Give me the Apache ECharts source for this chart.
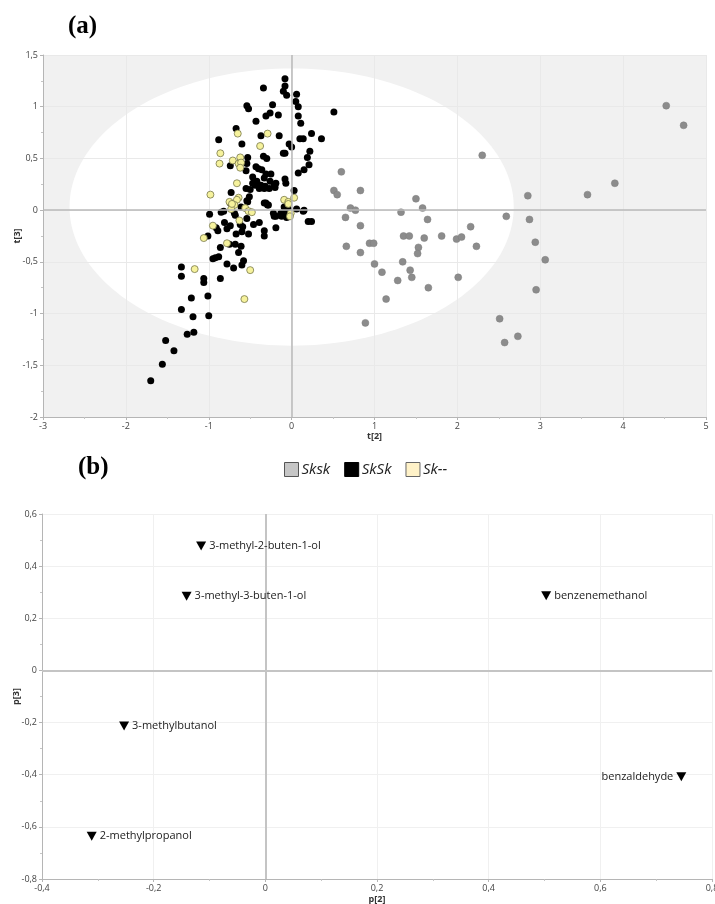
<!DOCTYPE html>
<html><head><meta charset="utf-8">
<script src="https://cdn.jsdelivr.net/npm/echarts@6/dist/echarts.min.js"></script>
<style>html,body{margin:0;padding:0;background:#fff}#c{width:715px;height:904px}</style>
</head><body><div id="c"></div>
<script>
// ---------- Panel (a): score plot t[2] vs t[3] ----------
const groupNames = ['Sksk', 'SkSk', 'Sk--'];

const skskPoints = [
  [4.52,1.01],[4.73,0.82],[2.30,0.53],[0.60,0.37],[3.90,0.26],[3.57,0.15],
  [0.51,0.19],[0.55,0.15],[0.83,0.19],[2.85,0.14],[1.50,0.11],[0.71,0.02],
  [0.77,0.00],[1.58,0.02],[1.32,-0.02],[0.65,-0.07],[1.64,-0.09],[2.59,-0.06],
  [2.87,-0.09],[0.83,-0.15],[2.16,-0.16],[1.35,-0.25],[1.42,-0.25],[1.81,-0.25],
  [1.99,-0.28],[2.05,-0.26],[1.60,-0.27],[2.94,-0.31],[0.66,-0.35],[0.94,-0.32],
  [0.99,-0.32],[1.53,-0.36],[2.23,-0.35],[0.83,-0.41],[1.52,-0.42],[3.06,-0.48],
  [1.00,-0.52],[1.34,-0.50],[1.09,-0.60],[1.43,-0.58],[1.45,-0.65],[2.01,-0.65],
  [1.28,-0.68],[1.65,-0.75],[2.95,-0.77],[1.14,-0.86],[0.89,-1.09],[2.51,-1.05],
  [2.73,-1.22],[2.57,-1.28]
];

const skSkPoints = [
  [-0.08,1.27],[-0.34,1.18],[-0.08,1.20],[-0.10,1.15],[-0.06,1.11],[0.06,1.12],
  [0.05,1.05],[0.08,1.00],[-0.54,1.01],[-0.52,0.98],[-0.23,1.02],[-0.26,0.94],
  [-0.31,0.91],[-0.16,0.92],[0.51,0.95],[0.08,0.91],[-0.43,0.86],[0.11,0.84],
  [-0.67,0.79],[0.24,0.74],[0.36,0.69],[-0.88,0.68],[-0.37,0.72],[-0.15,0.72],
  [0.10,0.69],[0.14,0.69],[-0.60,0.64],[-0.03,0.64],[0.00,0.61],[-0.10,0.55],
  [-0.08,0.55],[0.22,0.57],[0.19,0.51],[-0.53,0.51],[-0.34,0.52],[-0.30,0.50],
  [0.21,0.44],[-0.74,0.43],[-0.54,0.45],[0.15,0.39],[0.08,0.36],[-0.08,0.30],
  [-0.07,0.26],[-0.43,0.42],[-0.40,0.40],[-0.36,0.39],[-0.55,0.38],[-0.31,0.35],
  [-0.25,0.35],[-0.47,0.32],[-0.33,0.31],[-0.42,0.28],[-0.19,0.26],[-0.47,0.26],
  [-0.26,0.28],[-0.44,0.24],[-0.37,0.24],[-0.32,0.23],[-0.21,0.24],[-0.50,0.20],
  [-0.39,0.21],[-0.33,0.21],[-0.27,0.21],[-0.20,0.22],[-0.55,0.21],[0.03,0.19],
  [-0.73,0.17],[-0.51,0.13],[-0.54,0.09],[-0.33,0.07],[-0.29,0.05],[0.06,0.01],
  [0.15,0.00],[-0.07,0.03],[-0.04,0.01],[-0.61,0.03],
  [-0.99,-0.04],[-0.85,-0.02],[-0.82,-0.01],[-0.74,0.07],[-0.69,-0.03],[-0.68,-0.05],
  [-0.53,0.08],[-0.54,-0.08],[-0.81,-0.12],[-0.78,-0.18],[-0.91,-0.17],[-0.89,-0.20],
  [-0.74,-0.15],[-0.62,-0.14],[-0.59,-0.16],[-0.67,-0.23],[-0.52,-0.23],[-0.46,-0.14],
  [-0.39,-0.12],[-0.60,-0.21],[-0.33,-0.20],[-0.33,-0.25],[-0.19,-0.17],[-0.22,-0.03],
  [-0.19,-0.06],[-0.13,-0.03],[-0.12,-0.06],[-0.21,-0.06],[-0.31,0.07],[-0.28,0.05],
  [-0.09,0.03],[-0.06,0.01],[-0.05,-0.05],[-0.11,-0.03],[-0.06,-0.07],[0.14,-0.01],
  [0.20,-0.11],[0.24,-0.11],[-1.01,-0.25],[-0.86,-0.36],[-0.75,-0.33],[-0.68,-0.33],
  [-0.61,-0.35],[-0.64,-0.41],[-0.88,-0.45],[-0.92,-0.46],[-0.95,-0.47],[-0.78,-0.52],
  [-0.70,-0.56],[-0.58,-0.49],[-0.60,-0.53],[-1.33,-0.55],[-1.33,-0.64],[-1.06,-0.66],
  [-1.06,-0.70],[-0.86,-0.66],[-1.21,-0.85],[-1.01,-0.83],[-1.33,-0.96],[-1.19,-1.03],
  [-1.00,-1.02],[-1.26,-1.20],[-1.18,-1.18],[-1.52,-1.26],[-1.42,-1.36],[-1.56,-1.49],
  [-1.70,-1.65]
];

const skDashPoints = [
  [-0.65,0.74],[-0.29,0.74],[-0.38,0.62],[-0.86,0.55],[-0.87,0.45],[-0.71,0.48],
  [-0.62,0.51],[-0.64,0.45],[-0.61,0.46],[-0.62,0.41],[-0.66,0.26],[-0.98,0.15],
  [-0.64,0.12],[-0.66,0.10],[-0.69,0.05],[-0.73,0.01],[-0.75,0.08],[-0.72,0.06],
  [-0.56,0.02],[-0.52,-0.01],[-0.48,-0.02],[-0.63,-0.10],[-0.09,0.10],[-0.04,0.08],
  [-0.04,0.06],[0.03,0.12],[-0.01,-0.03],[-0.02,-0.06],[-0.95,-0.15],[-1.06,-0.27],
  [-0.78,-0.32],[-1.17,-0.57],[-0.50,-0.58],[-0.57,-0.86]
];

// Hotelling ellipse: [centre t2, centre t3, semi-axis t2, semi-axis t3]
const ellipseParams = [0, 0.03, 2.68, 1.34];

// ---------- Panel (b): loading plot p[2] vs p[3] ----------
const loadingNames = ['3-methyl-2-buten-1-ol','3-methyl-3-buten-1-ol','benzenemethanol','3-methylbutanol','benzaldehyde','2-methylpropanol'];
const loadingP2 = [-0.115, -0.141, 0.503, -0.253, 0.745, -0.311];
const loadingP3 = [0.477, 0.285, 0.286, -0.213, -0.408, -0.636];
const leftLabelNames = ['benzaldehyde'];

const fmt = v => String(Math.round(v * 100) / 100).replace('.', ',');
const FONT = '"Open Sans", "Noto Sans", sans-serif';

function axisCommon(extra) {
  return Object.assign({
    type: 'value',
    z: 2,
    axisLine: { show: true, onZero: false, lineStyle: { color: '#b5b5b5', width: 1 } },
    axisTick: { show: true, length: 3, lineStyle: { color: '#b5b5b5' } },
    minorTick: { show: true, splitNumber: 2, length: 2, lineStyle: { color: '#c5c5c5' } },
    axisLabel: { fontSize: 9, color: '#444', fontFamily: FONT, formatter: fmt, margin: 5 },
    nameLocation: 'middle',
    nameMoveOverlap: false,
    nameTextStyle: { fontSize: 9, fontWeight: 'bold', color: '#333', fontFamily: FONT }
  }, extra);
}

const loadingData = loadingNames.map((n, i) => {
  const item = { name: n, value: [loadingP2[i], loadingP3[i]] };
  if (leftLabelNames.includes(n)) item.label = { position: 'left' };
  return item;
});

const chart = echarts.init(document.getElementById('c'), null, { renderer: 'canvas' });
chart.setOption({
  animation: false,
  backgroundColor: '#fff',
  textStyle: { fontFamily: FONT },
  grid: [
    { left: 43, top: 55, width: 663, height: 362, show: true, backgroundColor: '#f1f1f1', borderWidth: 0,
      containLabel: false, outerBoundsMode: 'none' },
    { left: 42, top: 514, width: 670, height: 365, containLabel: false, outerBoundsMode: 'none' }
  ],
  xAxis: [
    axisCommon({ gridIndex: 0, min: -3, max: 5, interval: 1, name: 't[2]', nameGap: 15,
      splitLine: { show: true, lineStyle: { color: '#e9e9e9' } } }),
    axisCommon({ gridIndex: 1, min: -0.4, max: 0.8, interval: 0.2, name: 'p[2]', nameGap: 16,
      splitLine: { show: true, lineStyle: { color: '#f0f0f0' } } })
  ],
  yAxis: [
    axisCommon({ gridIndex: 0, min: -2, max: 1.5, interval: 0.5, name: 't[3]', nameGap: 21, nameRotate: 90,
      splitLine: { show: true, lineStyle: { color: '#e9e9e9' } } }),
    axisCommon({ gridIndex: 1, min: -0.8, max: 0.6, interval: 0.2, name: 'p[3]', nameGap: 21, nameRotate: 90,
      splitLine: { show: true, lineStyle: { color: '#f0f0f0' } } })
  ],
  legend: {
    left: 279, top: 457, itemWidth: 14, itemHeight: 14, itemGap: 14, icon: 'rect',
    textStyle: { fontSize: 15, fontStyle: 'italic', color: '#222', fontFamily: FONT, padding: [0, 0, 0, -2] },
    data: [
      { name: groupNames[0], itemStyle: { color: '#c6c6c6', borderColor: '#555', borderWidth: 1, opacity: 1 } },
      { name: groupNames[1], itemStyle: { color: '#000', borderColor: '#000', borderWidth: 1, opacity: 1 } },
      { name: groupNames[2], itemStyle: { color: '#fff2c8', borderColor: '#666', borderWidth: 1, opacity: 1 } }
    ]
  },
  graphic: [
    { type: 'text', left: 68, top: 14, style: { text: '(a)', font: 'bold 25px "Liberation Serif", serif', fill: '#000' } },
    { type: 'text', left: 78, top: 455, style: { text: '(b)', font: 'bold 25px "Liberation Serif", serif', fill: '#000' } }
  ],
  series: [
    {
      type: 'custom', xAxisIndex: 0, yAxisIndex: 0, z: 1, silent: true,
      data: [ellipseParams],
      renderItem: function (params, api) {
        const cx = api.value(0), cy = api.value(1), rx = api.value(2), ry = api.value(3);
        const pts = [];
        for (let k = 0; k < 180; k++) {
          const a = (k / 180) * Math.PI * 2;
          pts.push(api.coord([cx + rx * Math.cos(a), cy + ry * Math.sin(a)]));
        }
        return { type: 'polygon', shape: { points: pts }, style: { fill: '#ffffff' } };
      }
    },
    {
      type: 'line', xAxisIndex: 0, yAxisIndex: 0, z: 2, data: [], silent: true,
      markLine: { silent: true, symbol: 'none', label: { show: false },
        lineStyle: { color: '#b9b9b9', width: 1.5, type: 'solid' },
        data: [{ xAxis: 0 }, { yAxis: 0 }] }
    },
    { name: groupNames[0], type: 'scatter', xAxisIndex: 0, yAxisIndex: 0, z: 3, symbolSize: 7,
      itemStyle: { color: '#8c8c8c', borderColor: '#7f7f7f', borderWidth: 0.5, opacity: 1 }, data: skskPoints },
    { name: groupNames[1], type: 'scatter', xAxisIndex: 0, yAxisIndex: 0, z: 3, symbolSize: 7,
      itemStyle: { color: '#000', opacity: 1 }, data: skSkPoints },
    { name: groupNames[2], type: 'scatter', xAxisIndex: 0, yAxisIndex: 0, z: 4, symbolSize: 7,
      itemStyle: { color: '#f6f29c', borderColor: '#77774a', borderWidth: 0.8, opacity: 1 }, data: skDashPoints },
    {
      type: 'line', xAxisIndex: 1, yAxisIndex: 1, z: 2, data: [], silent: true,
      markLine: { silent: true, symbol: 'none', label: { show: false },
        lineStyle: { color: '#c4c4c4', width: 2, type: 'solid' },
        data: [{ xAxis: 0 }, { yAxis: 0 }] }
    },
    {
      name: 'loadings', type: 'scatter', xAxisIndex: 1, yAxisIndex: 1, z: 10,
      symbol: 'triangle', symbolRotate: 180, symbolSize: [10, 9],
      itemStyle: { color: '#000', opacity: 1 },
      label: { show: true, position: 'right', distance: 3, formatter: '{b}', fontSize: 11, color: '#222', fontFamily: FONT },
      data: loadingData
    }
  ]
});
</script>
</body></html>
